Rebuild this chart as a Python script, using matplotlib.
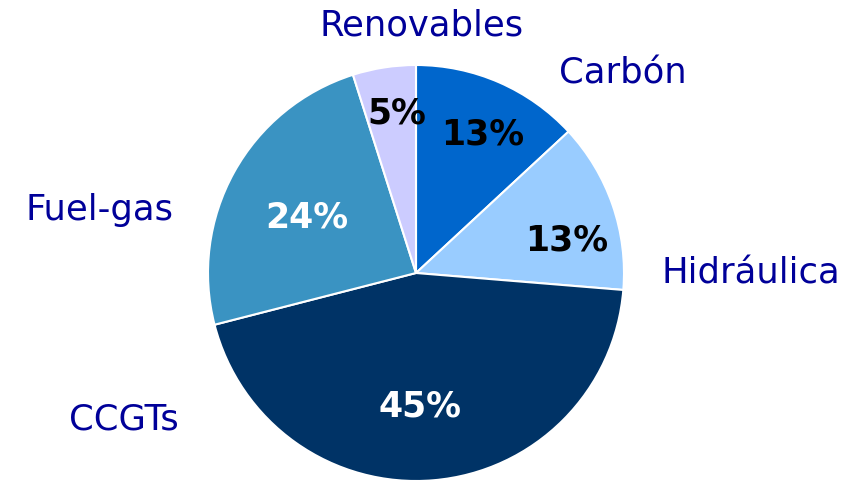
import matplotlib
matplotlib.use("Agg")
import matplotlib.pyplot as plt
import numpy as np

# data (clockwise from 12 o'clock)
categories = ["Carbón", "Hidráulica", "CCGTs", "Fuel-gas", "Renovables"]
shares = [13.1, 13.2, 44.7, 24.1, 4.9]
pct_labels = ["13%", "13%", "45%", "24%", "5%"]

# styles / layout
colours = ["#0066CC", "#99CCFF", "#003366", "#3A93C2", "#CCCCFF"]
pct_colours = ["black", "black", "white", "white", "black"]
pct_dist = [0.74, 0.74, 0.64, 0.59, 0.77]
pct_shift = [-2, -7, -3, 2, -2]  # degrees off the wedge middle
# outer label placement: (angle deg, distance in radii)
name_pos = [(44, 1.38), (0, 1.61), (206.7, 1.57), (168.7, 1.55), (88.6, 1.19)]

cx, cy, r = 416, 482 - 273, 208

fig = plt.figure(figsize=(8.59, 4.82), dpi=100)
ax = fig.add_axes([0, 0, 1, 1])

wedges, _ = ax.pie(shares, colors=colours, startangle=90, counterclock=False,
                   center=(cx, cy), radius=r,
                   wedgeprops=dict(edgecolor="white", linewidth=1.5))
ax.set_xlim(0, 859)
ax.set_ylim(0, 482)
ax.set_aspect("equal")
ax.axis("off")

for w, lab, col, d, s in zip(wedges, pct_labels, pct_colours, pct_dist, pct_shift):
    mid = np.deg2rad((w.theta1 + w.theta2) / 2 + s)
    ax.text(cx + d * r * np.cos(mid), cy + d * r * np.sin(mid), lab,
            ha="center", va="center", fontsize=25, fontweight="bold", color=col)

for name, (ang, d) in zip(categories, name_pos):
    a = np.deg2rad(ang)
    ax.text(cx + d * r * np.cos(a), cy + d * r * np.sin(a), name,
            ha="center", va="center", fontsize=25.5, color="#000099")

fig.savefig("out.png", dpi=100)
